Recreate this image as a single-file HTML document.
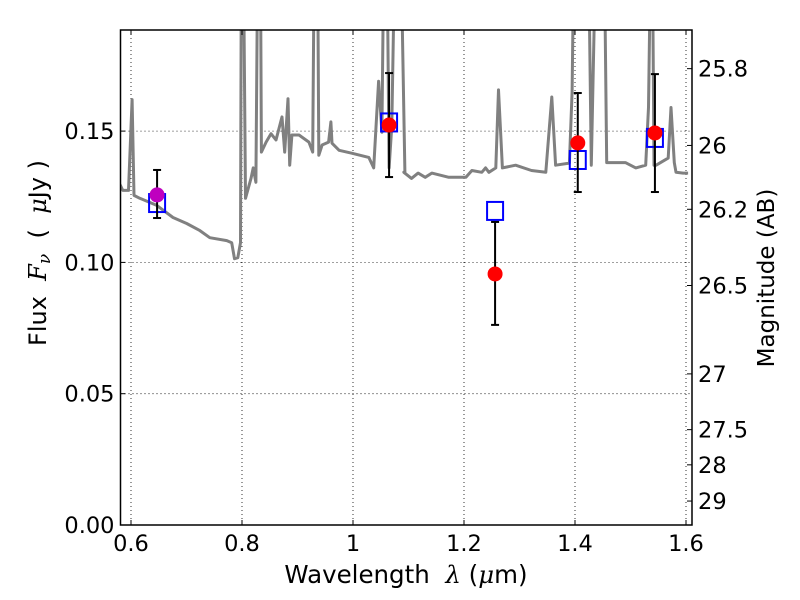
<!DOCTYPE html>
<html><head><meta charset="utf-8"><style>
body{margin:0;background:#fff;}
svg{display:block;font-family:"DejaVu Sans","Liberation Sans",sans-serif;}
</style></head><body>
<svg id="chart" width="800" height="600" xmlns="http://www.w3.org/2000/svg"></svg>
<script>
// ---- data ----
const specWave = [0.580,0.5853,0.5955,0.602,0.6054,0.6158,0.6465,0.6757,0.7004,0.7241,0.7419,0.7726,0.7815,0.7864,0.7924,0.7973,0.7993,0.8013,0.8063,0.8162,0.8202,0.8251,0.8295,0.8325,0.8350,0.8434,0.8523,0.8612,0.8721,0.8770,0.8829,0.8859,0.8899,0.9027,0.9205,0.9274,0.9314,0.9353,0.9383,0.9443,0.9561,0.9601,0.9621,0.9749,0.9977,1.0284,1.0373,1.0462,1.0521,1.0571,1.0600,1.0650,1.0699,1.0778,1.0837,1.0936,1.0916,1.1054,1.1173,1.1301,1.1420,1.1727,1.2034,1.2142,1.2320,1.2390,1.2449,1.2573,1.2622,1.2691,1.2929,1.3216,1.3473,1.3582,1.3651,1.3899,1.3948,1.3998,1.4225,1.4294,1.4403,1.4512,1.4572,1.4908,1.5096,1.5274,1.5324,1.5384,1.5423,1.5462,1.5680,1.5730,1.5789,1.5819,1.5948,1.6037];
const specFlux = [0.1297,0.1274,0.1274,0.162,0.1255,0.1244,0.1217,0.1171,0.1148,0.1121,0.1094,0.1083,0.1075,0.1014,0.1018,0.1075,0.25,0.25,0.1244,0.132,0.136,0.1305,0.25,0.25,0.142,0.1458,0.149,0.1466,0.1554,0.142,0.1623,0.137,0.1485,0.1485,0.1458,0.142,0.25,0.25,0.1408,0.1447,0.1458,0.1535,0.1454,0.1427,0.1416,0.140,0.136,0.169,0.1496,0.25,0.25,0.136,0.152,0.25,0.25,0.1343,0.1343,0.132,0.134,0.1324,0.134,0.1324,0.1324,0.135,0.1343,0.136,0.1343,0.136,0.1657,0.136,0.137,0.135,0.1343,0.163,0.137,0.1378,0.165,0.25,0.25,0.137,0.25,0.25,0.138,0.138,0.136,0.137,0.159,0.25,0.137,0.137,0.1397,0.159,0.138,0.1343,0.134,0.1340];
const obsWave = [0.647,1.065,1.256,1.405,1.544];
const obsFlux = [0.1257,0.1523,0.0956,0.1455,0.1493];
const obsErrLo = [0.1169,0.1325,0.0762,0.1268,0.1268];
const obsErrHi = [0.1352,0.1721,0.1154,0.1645,0.1717];
const modelFlux = [0.1226,0.1533,0.1196,0.1390,0.1474];
const xTicks = [0.6,0.8,1.0,1.2,1.4,1.6];
const xTickLabels = ["0.6","0.8","1","1.2","1.4","1.6"];
const yTicks = [0,0.05,0.10,0.15];
const yTickLabels = ["0.00","0.05","0.10","0.15"];
const magTicks = [25.8,26,26.2,26.5,27,27.5,28,29];
const magTickLabels = ["25.8","26","26.2","26.5","27","27.5","28","29"];

// ---- axes ----
const L=120.5,R=692,T=30,B=525;
const X = v => 131 + (v-0.6)*555;
const Y = v => 525 - v*2626;
const magToFlux = m => Math.pow(10,(23.9-m)/2.5);
const svg = document.getElementById('chart');
const NS='http://www.w3.org/2000/svg';
const FS = 22.5;
function mk(tag, attrs, parent){const e=document.createElementNS(NS,tag);for(const k in attrs)e.setAttribute(k,attrs[k]);(parent||svg).appendChild(e);return e;}

const clip = mk('clipPath',{id:'pc'}); mk('rect',{x:L,y:T,width:R-L,height:B-T},clip);

xTicks.forEach((t,i)=>{
  const g=mk('line',{x1:X(t),x2:X(t),y1:T,y2:B,stroke:'#000','stroke-width':0.8,'stroke-dasharray':'1,3'});
  
  
});
yTicks.forEach((t,i)=>{
  const g=mk('line',{x1:L,x2:R,y1:Y(t),y2:Y(t),stroke:'#000','stroke-width':0.8,'stroke-dasharray':'1,3'});
  
  
});

let d='';
specWave.forEach((w,i)=>{d+=(i?'L':'M')+X(w).toFixed(1)+','+Y(specFlux[i]).toFixed(1);});
const sp=mk('path',{d:d,fill:'none',stroke:'#808080','stroke-width':3,'stroke-linejoin':'round','clip-path':'url(#pc)'});



modelFlux.forEach((f,i)=>{
  const s=mk('rect',{x:X(obsWave[i])-8,y:Y(f)-9,width:16,height:18,fill:'none',stroke:'#0000ff','stroke-width':2});
  
  
});
obsWave.forEach((w,i)=>{
  const g=mk('g',{});
  
  
  const x=X(w);
  mk('line',{x1:x,x2:x,y1:Y(obsErrLo[i]),y2:Y(obsErrHi[i]),stroke:'#000','stroke-width':2},g);
  mk('line',{x1:x-4,x2:x+4,y1:Y(obsErrLo[i]),y2:Y(obsErrLo[i]),stroke:'#000','stroke-width':2},g);
  mk('line',{x1:x-4,x2:x+4,y1:Y(obsErrHi[i]),y2:Y(obsErrHi[i]),stroke:'#000','stroke-width':2},g);
  mk('circle',{cx:x,cy:Y(obsFlux[i]),r:7.5,fill:i===0?'#bf00bf':'#ff0000'},g);
});

const fr=mk('rect',{x:L,y:T,width:R-L,height:B-T,fill:'none',stroke:'#000','stroke-width':1.5});



xTicks.forEach((t,i)=>{
  mk('line',{x1:X(t),x2:X(t),y1:B,y2:B-5,stroke:'#000'});
  mk('line',{x1:X(t),x2:X(t),y1:T,y2:T+5,stroke:'#000'});
  const tx=mk('text',{x:X(t),y:B+26,'font-size':FS,'text-anchor':'middle'});
  tx.textContent=xTickLabels[i];
  
  
});
yTicks.forEach((t,i)=>{
  mk('line',{x1:L,x2:L+5,y1:Y(t),y2:Y(t),stroke:'#000'});
  const tx=mk('text',{x:L-6,y:Y(t)+8,'font-size':FS,'text-anchor':'end'});
  tx.textContent=yTickLabels[i];
  
  
});
magTicks.forEach((m,i)=>{
  const y=Y(magToFlux(m));
  mk('line',{x1:R,x2:R-5,y1:y,y2:y,stroke:'#000'});
  const tx=mk('text',{x:R+6,y:y+8,'font-size':FS});
  tx.textContent=magTickLabels[i];
  
  
});
</script>
<svg style="position:absolute;left:0;top:0" width="800" height="600">
<text x="406" y="583" font-size="24.5" text-anchor="middle" font-family="DejaVu Sans,sans-serif">Wavelength&#160;&#160;<tspan font-style="italic" font-family="DejaVu Serif,serif">λ</tspan>&#160;(<tspan font-style="italic" font-family="DejaVu Serif,serif">μ</tspan>m)</text>
<text transform="translate(46,253) rotate(-90)" font-size="24" text-anchor="middle" font-family="DejaVu Sans,sans-serif">Flux&#160;&#160;<tspan font-style="italic" font-family="DejaVu Serif,serif">F<tspan font-size="17" dy="4">ν</tspan></tspan><tspan dy="-4">&#160;&#160;(&#160;&#160;</tspan><tspan font-style="italic" font-family="DejaVu Serif,serif">μ</tspan>Jy&#160;)</text>
<text transform="translate(774,278) rotate(-90)" font-size="23" text-anchor="middle" font-family="DejaVu Sans,sans-serif">Magnitude (AB)</text>
</svg>
</body></html>
